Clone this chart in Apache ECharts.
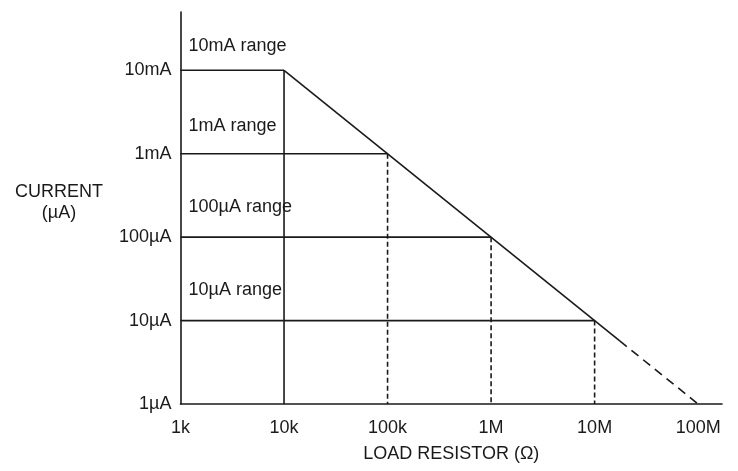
<!DOCTYPE html>
<html>
<head>
<meta charset="utf-8">
<script src="https://cdn.jsdelivr.net/npm/echarts@6/dist/echarts.min.js"></script>
<style>html,body{margin:0;padding:0;background:#fff}#c{width:738px;height:471px}</style>
</head>
<body>
<div id="c"></div>
<script>
// Axis ticks
const xTickValues = [1e3, 1e4, 1e5, 1e6, 1e7, 1e8];
const xTickLabels = ['1k', '10k', '100k', '1M', '10M', '100M'];
const yTickValues = [1, 10, 100, 1000, 10000];
const yTickLabels = ['1µA', '10µA', '100µA', '1mA', '10mA'];
const xMin = 1e3, xMax = 1.7e8;
const yMin = 1, yMax = 5e4;
const xAxisTitle = 'LOAD RESISTOR (Ω)';
const yAxisTitle = 'CURRENT\n(µA)';

// Ranges (current in µA, resistor in Ω)
const rangeNames = ['10mA range', '1mA range', '100µA range', '10µA range'];
const rangeLevels = [10000, 1000, 100, 10];
const rangeEnds = [1e4, 1e5, 1e6, 1e7];
const rangeLabelY = [19500, 2150, 230, 23];

// Compliance limit line
const limitSolid = [[1e4, 1e4], [1.75e7, 5.7]];
const limitDashed = [[1.75e7, 5.7], [1e8, 1]];

const INK = '#1a1a1a';
const FONT = 'Liberation Sans, Arial, Helvetica, sans-serif';
const FS = 18;
const LW = 1.6;

function tickFormatter(values, labels) {
  return function (v) {
    for (let i = 0; i < values.length; i++) {
      if (Math.abs(Math.log10(v) - Math.log10(values[i])) < 1e-6) return labels[i];
    }
    return '';
  };
}

const series = [];
// horizontal range lines
rangeLevels.forEach((lv, i) => {
  series.push({
    type: 'line', data: [[xMin, lv], [rangeEnds[i], lv]],
    symbol: 'none', lineStyle: {color: INK, width: LW}, silent: true
  });
});
// vertical lines
rangeEnds.forEach((x, i) => {
  series.push({
    type: 'line', data: [[x, rangeLevels[i]], [x, yMin]],
    symbol: 'none',
    lineStyle: {color: INK, width: LW, type: i === 0 ? 'solid' : [5, 3]},
    silent: true
  });
});
series.push({type: 'line', data: limitSolid, symbol: 'none', lineStyle: {color: INK, width: LW}, silent: true});
series.push({type: 'line', data: limitDashed, symbol: 'none', lineStyle: {color: INK, width: LW, type: [9, 6]}, silent: true});
// range labels
series.push({
  type: 'scatter', symbolSize: 0, silent: true,
  itemStyle: {color: INK, opacity: 1},
  data: rangeNames.map((n, i) => ({value: [xMin, rangeLabelY[i]], name: n})),
  label: {show: true, position: 'right', distance: 8, formatter: p => p.name,
          color: INK, opacity: 1, textBorderWidth: 0, fontSize: FS, fontFamily: FONT}
});

const chart = echarts.init(document.getElementById('c'), null, {renderer: 'canvas'});
chart.setOption({
  animation: false,
  backgroundColor: '#fff',
  grid: {left: 180.5, right: 16, top: 12, bottom: 67, containLabel: false},
  graphic: [{
    type: 'text', left: 59 - 45, top: 182, silent: true,
    style: {text: yAxisTitle, fill: INK, font: FS + 'px ' + FONT, textAlign: 'center',
            lineHeight: 21, width: 90, x: 45, y: 0}
  }],
  xAxis: {
    type: 'log', logBase: 10, min: xMin, max: xMax,
    name: xAxisTitle, nameLocation: 'middle', nameGap: 41,
    nameTextStyle: {color: INK, fontSize: FS, fontFamily: FONT},
    axisLine: {lineStyle: {color: INK, width: LW}},
    axisTick: {show: false}, splitLine: {show: false}, minorTick: {show: false},
    axisLabel: {color: INK, fontSize: FS, fontFamily: FONT, margin: 15,
                formatter: tickFormatter(xTickValues, xTickLabels), showMaxLabel: true, hideOverlap: false}
  },
  yAxis: {
    type: 'log', logBase: 10, min: yMin, max: yMax,
    axisLine: {lineStyle: {color: INK, width: LW}},
    axisTick: {show: false}, splitLine: {show: false}, minorTick: {show: false},
    axisLabel: {color: INK, fontSize: FS, fontFamily: FONT, margin: 9,
                formatter: tickFormatter(yTickValues, yTickLabels), hideOverlap: false}
  },
  series: series
});
</script>
</body>
</html>
